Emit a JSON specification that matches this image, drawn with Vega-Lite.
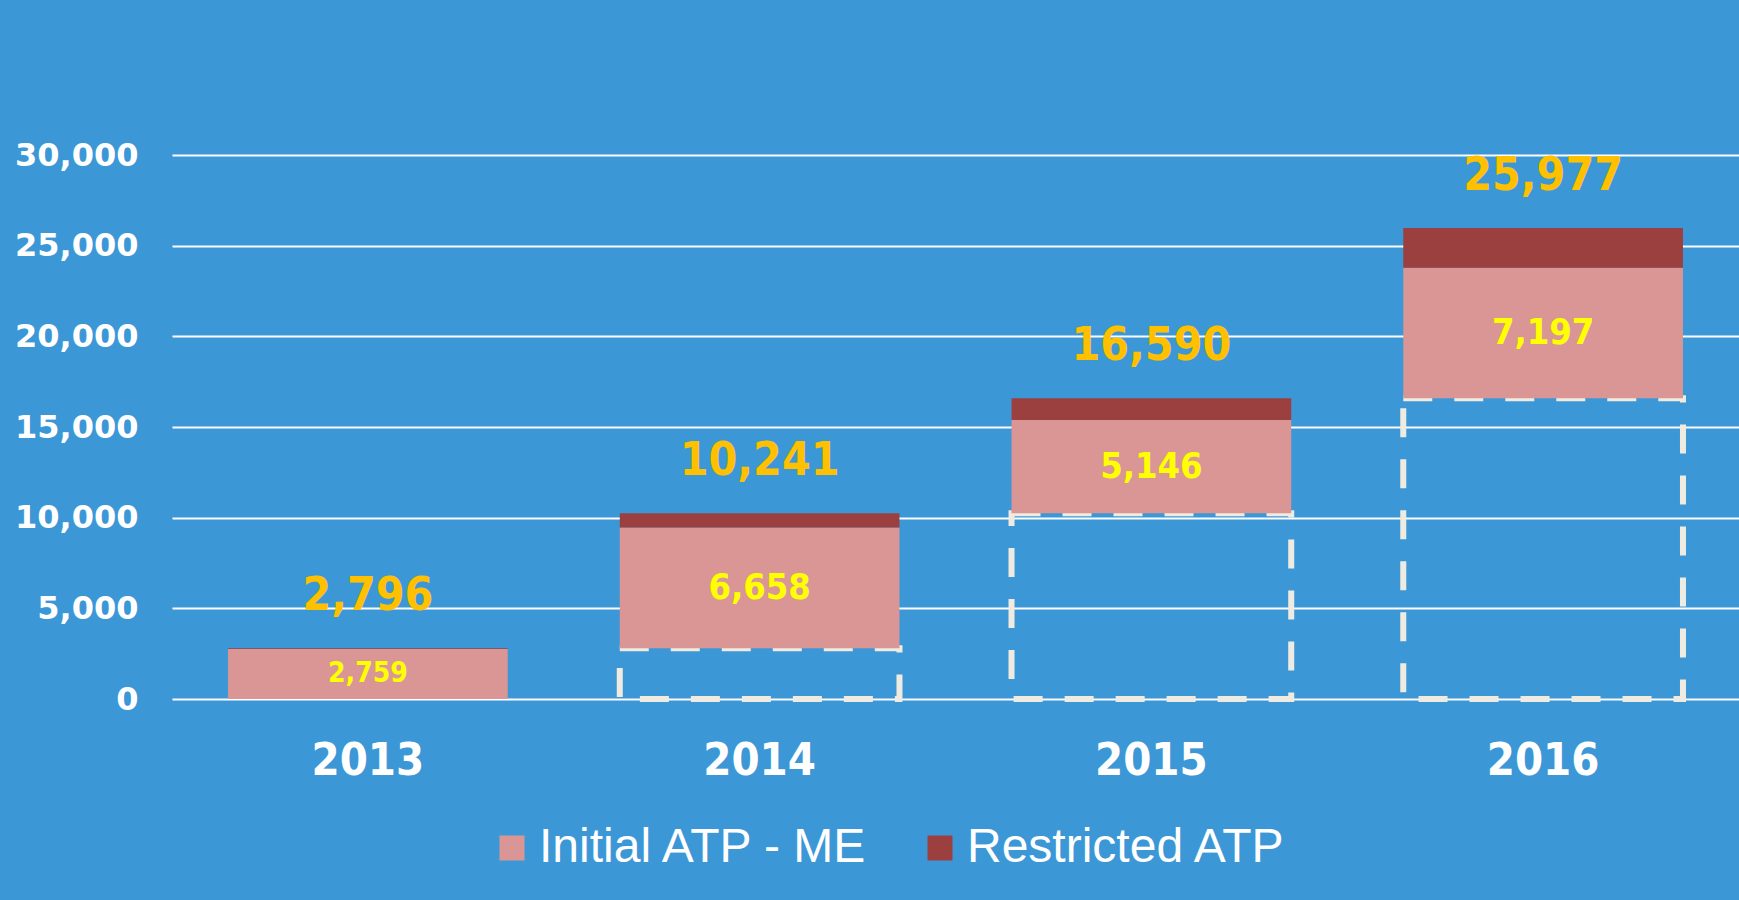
{
  "$schema": "https://vega.github.io/schema/vega-lite/v6.json",
  "width": 1567,
  "height": 544,
  "autosize": {"type": "none"},
  "padding": {"left": 172, "top": 155, "right": 0, "bottom": 201},
  "background": "#3C97D6",
  "config": {"view": {"stroke": null}},
  "datasets": {
    "bars": [
      {"year": "2013", "series": "Initial ATP - ME", "start": 0, "end": 2759, "value": 2759},
      {"year": "2013", "series": "Restricted ATP", "start": 2759, "end": 2796, "value": 37},
      {"year": "2014", "series": "Initial ATP - ME", "start": 2796, "end": 9454, "value": 6658},
      {"year": "2014", "series": "Restricted ATP", "start": 9454, "end": 10241, "value": 787},
      {"year": "2015", "series": "Initial ATP - ME", "start": 10241, "end": 15387, "value": 5146},
      {"year": "2015", "series": "Restricted ATP", "start": 15387, "end": 16590, "value": 1203},
      {"year": "2016", "series": "Initial ATP - ME", "start": 16590, "end": 23787, "value": 7197},
      {"year": "2016", "series": "Restricted ATP", "start": 23787, "end": 25977, "value": 2190}
    ],
    "years": [
      {"year": "2013", "prev": 0, "total": 2796},
      {"year": "2014", "prev": 2796, "total": 10241},
      {"year": "2015", "prev": 10241, "total": 16590},
      {"year": "2016", "prev": 16590, "total": 25977}
    ]
  },
  "layer": [
    {
      "data": {"name": "years"},
      "transform": [{"filter": "datum.prev > 0"}],
      "mark": {"type": "bar", "fill": "transparent", "stroke": "#EFEBE0", "strokeWidth": 6, "strokeDash": [29, 22]},
      "encoding": {
        "x": {"field": "year", "type": "nominal", "scale": {"domain": ["2013", "2014", "2015", "2016"], "paddingInner": 0.286, "paddingOuter": 0.143},
          "axis": {"title": null, "domain": false, "ticks": false, "labelAngle": 0, "labelFont": "DejaVu Sans Condensed", "labelFontWeight": "bold", "labelFontSize": 45, "labelColor": "white", "labelPadding": 39}},
        "y": {"field": "prev", "type": "quantitative", "scale": {"domain": [0, 30000], "nice": false},
          "axis": {"title": null, "domain": false, "ticks": false, "values": [0, 5000, 10000, 15000, 20000, 25000, 30000], "labelExpr": "format(datum.value, ',')", "labelFont": "DejaVu Sans", "labelFontWeight": "bold", "labelFontSize": 32, "labelColor": "white", "labelPadding": 34, "gridColor": "white", "gridWidth": 2, "gridOpacity": 1}},
        "y2": {"datum": 0}
      }
    },
    {
      "data": {"name": "bars"},
      "mark": {"type": "bar"},
      "encoding": {
        "x": {"field": "year", "type": "nominal"},
        "y": {"field": "start", "type": "quantitative"},
        "y2": {"field": "end"},
        "color": {"field": "series", "type": "nominal",
          "scale": {"domain": ["Initial ATP - ME", "Restricted ATP"], "range": ["#D99694", "#9C403F"]},
          "legend": {"title": null, "orient": "none", "legendX": 316, "legendY": 669, "direction": "horizontal", "symbolType": "square", "symbolSize": 625, "symbolStrokeWidth": 0, "symbolOpacity": 1, "labelFont": "Liberation Sans", "labelFontSize": 48, "labelColor": "white", "labelOffset": 3, "columnPadding": 47, "labelLimit": 600}}
      }
    },
    {
      "data": {"name": "bars"},
      "transform": [
        {"filter": "datum.series == 'Initial ATP - ME'"},
        {"calculate": "(datum.start + datum.end) / 2", "as": "mid"}
      ],
      "mark": {"type": "text", "font": "DejaVu Sans Condensed", "fontWeight": "bold", "color": "#FFFF00", "baseline": "middle", "align": "center"},
      "encoding": {
        "x": {"field": "year", "type": "nominal"},
        "y": {"field": "mid", "type": "quantitative"},
        "text": {"field": "value", "type": "quantitative", "format": ","},
        "size": {"condition": {"test": "datum.year == '2013'", "value": 28}, "value": 36}
      }
    },
    {
      "data": {"name": "years"},
      "mark": {"type": "text", "font": "DejaVu Sans Condensed", "fontWeight": "bold", "fontSize": 46, "color": "#FFC000", "baseline": "alphabetic", "align": "center", "dy": -38},
      "encoding": {
        "x": {"field": "year", "type": "nominal"},
        "y": {"field": "total", "type": "quantitative"},
        "text": {"field": "total", "type": "quantitative", "format": ","}
      }
    }
  ]
}
